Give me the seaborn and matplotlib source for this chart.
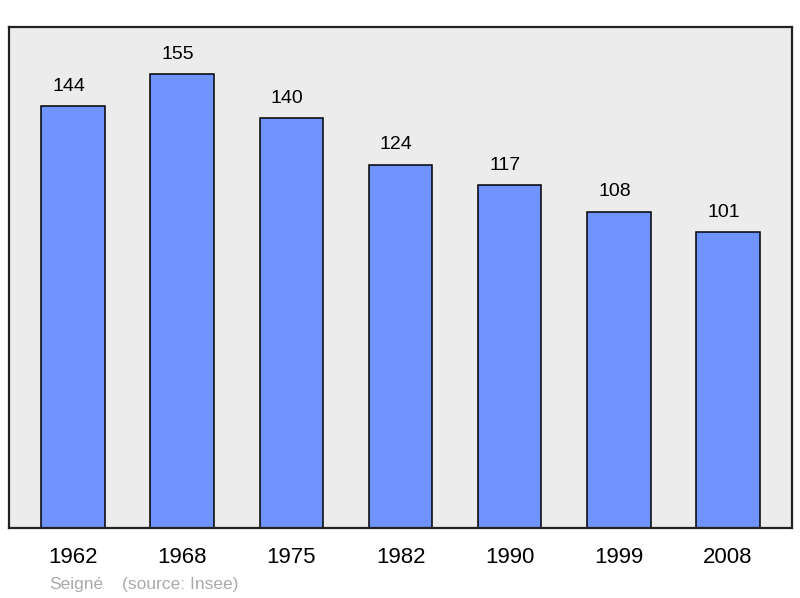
import matplotlib
matplotlib.use('Agg')
import matplotlib.pyplot as plt
import seaborn as sns
import pandas as pd

# données de population
years = ['1962', '1968', '1975', '1982', '1990', '1999', '2008']
population = [144, 155, 140, 124, 117, 108, 101]
commune = 'Seigné'
source = '(source: Insee)'

df = pd.DataFrame({'year': years, 'pop': population})

sns.set_style('white')
plt.rcParams['font.family'] = ['Liberation Sans', 'DejaVu Sans']
plt.rcParams['text.color'] = 'black'
plt.rcParams['xtick.color'] = 'black'

fig = plt.figure(figsize=(8, 5.98), dpi=100)
ax = fig.add_axes([9/800, 70/598, 783/800, 501/598])
ax.set_facecolor('#ececec')

sns.barplot(data=df, x='year', y='pop', color='#7094ff', saturation=1,
            width=0.58, edgecolor='black', linewidth=1.1, ax=ax)

ax.set_xlim(-0.585, 6.585)
ax.set_ylim(0, 171)
ax.set_xlabel('')
ax.set_ylabel('')
ax.set_yticks([])
ax.tick_params(axis='x', length=0, pad=14, labelsize=16, labelcolor='black')
for s in ax.spines.values():
    s.set_visible(True)
    s.set_color('#222222')
    s.set_linewidth(1.6)

# étiquettes de valeurs
for i, v in enumerate(population):
    ax.annotate(str(v), (i, v), xytext=(-3, 11), textcoords='offset points',
                ha='center', va='baseline', fontsize=14, color='black')

fig.text(49/800, 14/598, commune, color='#aaaaaa', fontsize=12.5, va='center')
fig.text(122/800, 14/598, source, color='#aaaaaa', fontsize=12.5, va='center')

fig.savefig('out.png', dpi=100)
